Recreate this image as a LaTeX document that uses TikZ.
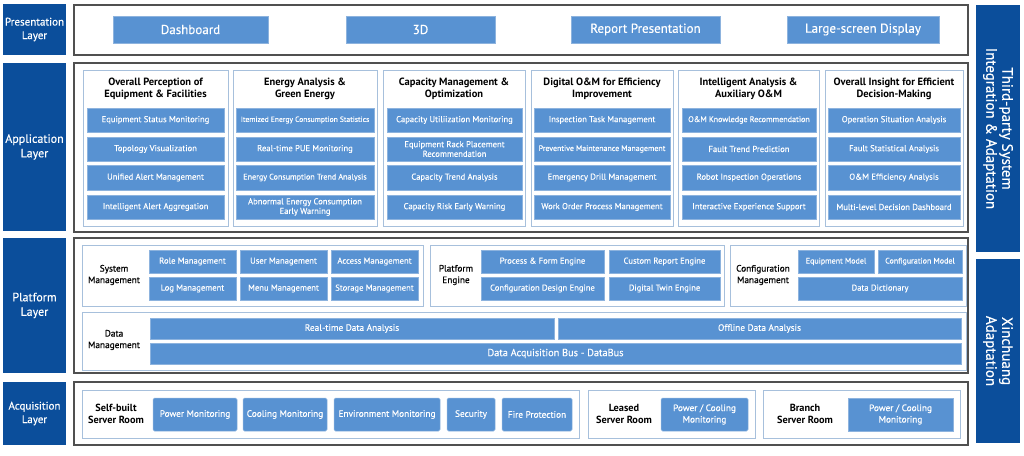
\documentclass[tikz,border=0pt]{standalone}
\usepackage{fontspec}
\setmainfont{PT Sans}
\newfontfamily\medfont[FakeBold=0.35]{PT Sans}
\definecolor{navy}{HTML}{0B4E9B}
\definecolor{itemblue}{HTML}{5892D2}
\definecolor{itemedge}{HTML}{8DB3DE}
\definecolor{subedge}{HTML}{A7C0DC}
\definecolor{frameedge}{HTML}{505050}
\newcommand{\mybox}[7]{\node[#6, minimum width={(#4-#2)*1pt}, minimum height={(#5-#3)*1pt}] (#1) at ({(#2+#4)/2},{(#3+#5)/2}) {#7};}
\tikzset{
  layerbox/.style={fill=navy, draw=none, text=white, font=\medfont\fontsize{12}{14.5}\selectfont, align=center, inner sep=0pt, outer sep=0pt},
  outerframe/.style={draw=frameedge, line width=1.1pt, fill=white, inner sep=0pt, outer sep=0pt},
  subframe/.style={draw=subedge, line width=0.8pt, inner sep=0pt, outer sep=0pt},
  item/.style={fill=itemblue, draw=itemedge, line width=0.5pt, text=white, font=\medfont\fontsize{8.6}{9.6}\selectfont, align=center, inner sep=0pt, outer sep=0pt},
  presitem/.style={item, font=\medfont\fontsize{13}{14}\selectfont},
  acqitem/.style={item, rounded corners=1.5pt, font=\medfont\fontsize{9.3}{11.5}\selectfont},
  colhead/.style={font=\bfseries\fontsize{10.5}{12.5}\selectfont, align=center, text=black, inner sep=0pt},
  grouplabel/.style={font=\medfont\fontsize{9.3}{11.5}\selectfont, align=center, text=black, inner sep=0pt},
  acqlabel/.style={font=\bfseries\fontsize{10.3}{12.5}\selectfont, align=center, text=black, inner sep=0pt},
  sidebar/.style={fill=navy, text=white, font=\medfont\fontsize{15}{16}\selectfont, align=center, inner sep=0pt, rotate=-90},
}
\begin{document}
\begin{tikzpicture}[x=1pt,y=-1pt]
\useasboundingbox (0,0) rectangle (1024,455);
% ---------- Presentation layer
\mybox{L1}{3}{4}{66}{55}{layerbox, font=\medfont\fontsize{11}{13.5}\selectfont}{Presentation\\Layer}
\mybox{F1}{74}{5}{968}{55}{outerframe}{}
\mybox{p1}{113}{16}{268}{43}{presitem}{Dashboard}
\mybox{p2}{346}{16}{495}{43}{presitem}{3D}
\mybox{p3}{571}{16}{720}{43}{presitem}{Report Presentation}
\mybox{p4}{787}{16}{939}{43}{presitem}{Large-screen Display}
% ---------- Application layer
\mybox{L2}{3}{63}{66}{231}{layerbox}{Application\\Layer}
\mybox{F2}{74}{63}{968}{232}{outerframe}{}
\mybox{c1}{83}{70}{228}{226}{subframe}{}
\mybox{c2}{233}{70}{377}{226}{subframe}{}
\mybox{c3}{383}{70}{525}{226}{subframe}{}
\mybox{c4}{531}{70}{673}{226}{subframe}{}
\mybox{c5}{678}{70}{819}{226}{subframe}{}
\mybox{c6}{825}{70}{963}{226}{subframe}{}
\node[colhead] (h1) at (155.5,89) {Overall Perception of\\Equipment \& Facilities};
\node[colhead] (h2) at (305,89) {Energy Analysis \&\\Green Energy};
\node[colhead] (h3) at (454,89) {Capacity Management \&\\Optimization};
\node[colhead] (h4) at (602,89) {Digital O\&M for Efficiency\\Improvement};
\node[colhead] (h5) at (748.5,89) {Intelligent Analysis \&\\Auxiliary O\&M};
\node[colhead] (h6) at (894,89) {Overall Insight for Efficient\\Decision-Making};
% column 1
\mybox{a11}{87}{108}{224}{132}{item}{Equipment Status Monitoring}
\mybox{a12}{87}{137}{224}{161}{item}{Topology Visualization}
\mybox{a13}{87}{165}{224}{190}{item}{Unified Alert Management}
\mybox{a14}{87}{195}{224}{219}{item}{Intelligent Alert Aggregation}
% column 2
\mybox{a21}{236}{108}{374}{132}{item, font=\medfont\fontsize{7.6}{9}\selectfont}{Itemized Energy Consumption Statistics}
\mybox{a22}{236}{137}{374}{161}{item}{Real-time PUE Monitoring}
\mybox{a23}{236}{165}{374}{190}{item, font=\medfont\fontsize{8.1}{9.5}\selectfont}{Energy Consumption Trend Analysis}
\mybox{a24}{236}{195}{374}{219}{item}{Abnormal Energy Consumption\\Early Warning}
% column 3
\mybox{a31}{387}{108}{522}{132}{item}{Capacity Utiliization Monitoring}
\mybox{a32}{387}{137}{522}{161}{item}{Equipment Rack Placement\\Recommendation}
\mybox{a33}{387}{165}{522}{190}{item}{Capacity Trend Analysis}
\mybox{a34}{387}{195}{522}{219}{item}{Capacity Risk Early Warning}
% column 4
\mybox{a41}{534}{108}{670}{132}{item}{Inspection Task Management}
\mybox{a42}{534}{137}{670}{161}{item, font=\medfont\fontsize{7.9}{9.5}\selectfont}{Preventive Maintenance Management}
\mybox{a43}{534}{165}{670}{190}{item}{Emergency Drill Management}
\mybox{a44}{534}{195}{670}{219}{item}{Work Order Process Management}
% column 5
\mybox{a51}{682}{108}{816}{132}{item, font=\medfont\fontsize{8.1}{9.5}\selectfont}{O\&M Knowledge Recommendation}
\mybox{a52}{682}{137}{816}{161}{item}{Fault Trend Prediction}
\mybox{a53}{682}{165}{816}{190}{item}{Robot Inspection Operations}
\mybox{a54}{682}{195}{816}{219}{item}{Interactive Experience Support}
% column 6
\mybox{a61}{828}{108}{960}{132}{item}{Operation Situation Analysis}
\mybox{a62}{828}{137}{960}{161}{item}{Fault Statistical Analysis}
\mybox{a63}{828}{165}{960}{190}{item}{O\&M Efficiency Analysis}
\mybox{a64}{828}{195}{960}{219}{item}{Multi-level Decision Dashboard}
% ---------- Platform layer
\mybox{L3}{3}{238}{66}{373}{layerbox}{Platform\\Layer}
\mybox{F3}{74}{238}{968}{373}{outerframe}{}
\mybox{g1}{82}{245}{423}{306}{subframe}{}
\node[grouplabel] (g1l) at (114,275) {System\\Management};
\mybox{s1}{149}{250}{236}{273}{item}{Role Management}
\mybox{s2}{240}{250}{327}{273}{item}{User Management}
\mybox{s3}{331}{250}{418}{273}{item}{Access Management}
\mybox{s4}{149}{277}{236}{300}{item}{Log Management}
\mybox{s5}{240}{277}{327}{300}{item}{Menu Management}
\mybox{s6}{331}{277}{418}{300}{item}{Storage Management}
\mybox{g2}{430}{245}{724}{306}{subframe}{}
\node[grouplabel] (g2l) at (456,275) {Platform\\Engine};
\mybox{e1}{481}{250}{604}{273}{item}{Process \& Form Engine}
\mybox{e2}{609}{250}{720}{273}{item}{Custom Report Engine}
\mybox{e3}{481}{277}{604}{300}{item}{Configuration Design Engine}
\mybox{e4}{609}{277}{720}{300}{item}{Digital Twin Engine}
\mybox{g3}{730}{245}{966}{306}{subframe}{}
\node[grouplabel] (g3l) at (763,275) {Configuration\\Management};
\mybox{m1}{798}{250}{874}{273}{item, font=\medfont\fontsize{8}{9.5}\selectfont}{Equipment Model}
\mybox{m2}{878}{250}{962}{273}{item, font=\medfont\fontsize{8}{9.5}\selectfont}{Configuration Model}
\mybox{m3}{798}{277}{962}{300}{item}{Data Dictionary}
\mybox{g4}{82}{312}{966}{370}{subframe}{}
\node[grouplabel] (g4l) at (114,340) {Data\\Management};
\mybox{d1}{150}{318}{554}{339}{item, font=\medfont\fontsize{9.3}{10}\selectfont}{Real-time Data Analysis}
\mybox{d2}{558}{318}{961}{339}{item, font=\medfont\fontsize{9.3}{10}\selectfont}{Offline Data Analysis}
\mybox{d3}{150}{343}{961}{364}{item, font=\medfont\fontsize{10.3}{11}\selectfont}{Data Acquisition Bus - DataBus}
% ---------- Acquisition layer
\mybox{L4}{3}{382}{66}{445}{layerbox, font=\medfont\fontsize{11}{13.5}\selectfont}{Acquisition\\Layer}
\mybox{F4}{74}{382}{968}{445}{outerframe}{}
\mybox{r1}{82}{390}{579}{438}{subframe}{}
\node[acqlabel] (r1l) at (116,414) {Self-built\\Server Room};
\mybox{q1}{153}{398}{237}{431}{acqitem}{Power Monitoring}
\mybox{q2}{243}{398}{327}{431}{acqitem}{Cooling Monitoring}
\mybox{q3}{334}{398}{440}{431}{acqitem}{Environment Monitoring}
\mybox{q4}{447}{398}{495}{431}{acqitem}{Security}
\mybox{q5}{502}{398}{572}{431}{acqitem}{Fire Protection}
\mybox{r2}{588}{390}{755}{438}{subframe}{}
\node[acqlabel] (r2l) at (624,414) {Leased\\Server Room};
\mybox{q6}{661}{398}{748}{431}{acqitem}{Power / Cooling\\Monitoring}
\mybox{r3}{763}{390}{960}{438}{subframe}{}
\node[acqlabel] (r3l) at (805,414) {Branch\\Server Room};
\mybox{q7}{848}{398}{953}{431}{acqitem, rounded corners=0pt}{Power / Cooling\\Monitoring}
% ---------- Right sidebars
\node[sidebar, minimum width=247pt, minimum height=44pt] (sb1) at (998,128.5) {Third-party System\\Integration \& Adaptation};
\node[sidebar, minimum width=184pt, minimum height=44pt] (sb2) at (998,351) {Xinchuang\\Adaptation};
\end{tikzpicture}
\end{document}
